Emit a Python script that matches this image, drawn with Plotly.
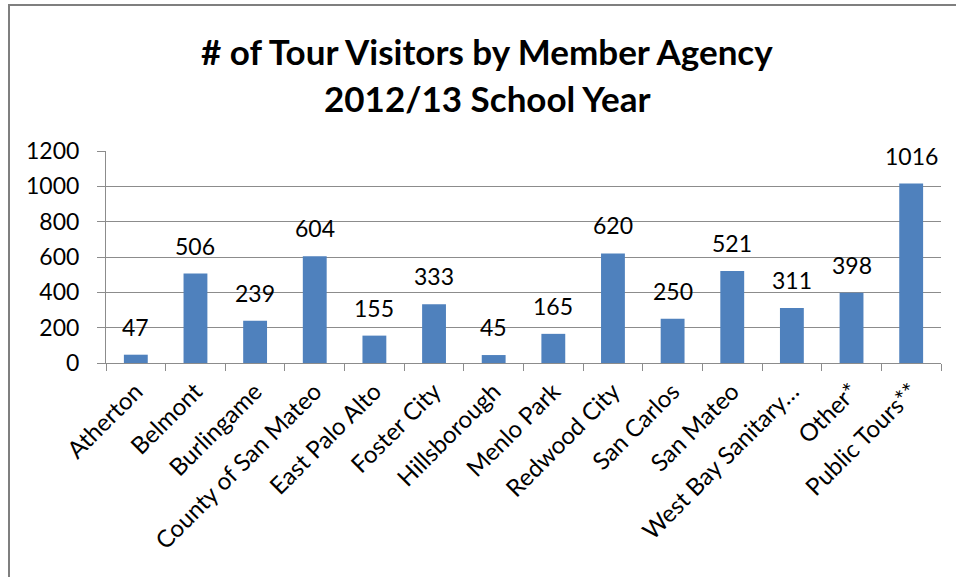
import plotly.graph_objects as go

categories = ["Atherton", "Belmont", "Burlingame", "County of San Mateo", "East Palo Alto",
              "Foster City", "Hillsborough", "Menlo Park", "Redwood City", "San Carlos",
              "San Mateo", "West Bay Sanitary\u2026", "Other*", "Public Tours**"]
visitors = [47, 506, 239, 604, 155, 333, 45, 165, 620, 250, 521, 311, 398, 1016]
y_ticks = [0, 200, 400, 600, 800, 1000, 1200]
title_lines = ["# of Tour Visitors by Member Agency", "2012/13 School Year"]

W, H = 956, 577
L, R, T, B = 106, 15, 151, 214
FONT = "Lato"
BAR = "#4F81BD"
GRID = "#8c8c8c"
TXT = "#000000"

fig = go.Figure(go.Bar(x=categories, y=visitors, marker=dict(color=BAR, line=dict(width=0)),
                       width=0.4))

for c, v in zip(categories, visitors):
    fig.add_annotation(x=c, y=v, text=str(v), showarrow=False, yanchor="bottom",
                       yshift=12, font=dict(family=FONT, size=23, color=TXT))

pw = W - L - R
ph = H - T - B
def px_x(p):
    return (p - L) / pw
def px_y(p):
    return (H - B - p) / ph

fig.add_shape(type="rect", xref="paper", yref="paper",
              x0=px_x(9), x1=px_x(W + 5), y0=px_y(H + 5), y1=px_y(5),
              line=dict(color="#7f7f7f", width=2), layer="below")

for line, yc in zip(title_lines, [51, 98]):
    fig.add_annotation(text="<b>" + line + "</b>", xref="paper", yref="paper",
                       x=px_x(487), y=px_y(yc), xanchor="center", yanchor="middle",
                       showarrow=False, font=dict(family=FONT, size=35, color=TXT))

fig.update_layout(
    width=W, height=H,
    margin=dict(l=L, r=R, t=T, b=B),
    paper_bgcolor="white", plot_bgcolor="white",
    showlegend=False,
    bargap=0.6,
)
fig.update_xaxes(showline=True, linecolor=GRID, linewidth=1, ticks="outside",
                 tickson="boundaries", ticklen=7, tickcolor=GRID, tickangle=-45,
                 ticklabelstandoff=4,
                 tickfont=dict(family=FONT, size=24, color=TXT), showgrid=False)
fig.update_yaxes(range=[0, 1200], tickvals=y_ticks, showline=True, linecolor=GRID, linewidth=1,
                 ticks="outside", ticklen=8, tickcolor=GRID, showgrid=True, gridcolor=GRID,
                 gridwidth=1, zeroline=False, ticklabelstandoff=13,
                 tickfont=dict(family=FONT, size=23, color=TXT))

fig.write_html("out.html")
